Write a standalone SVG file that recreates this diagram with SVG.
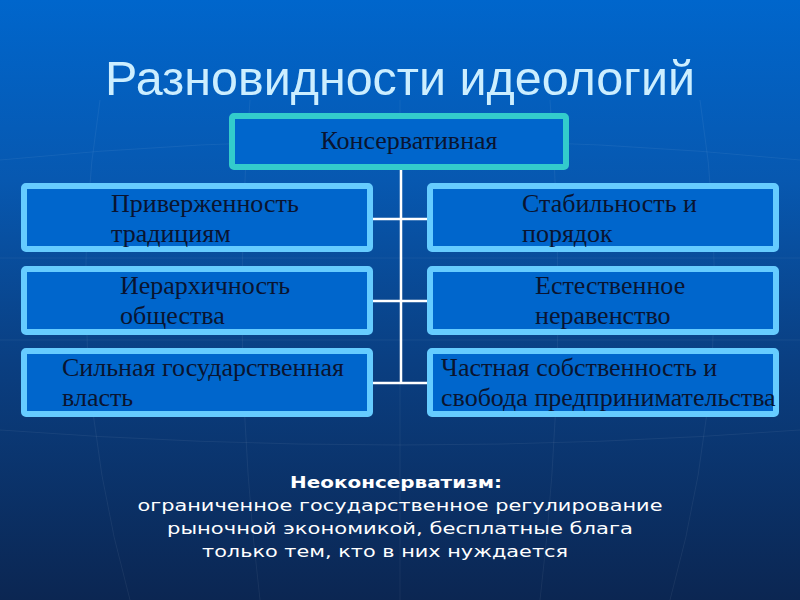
<svg xmlns="http://www.w3.org/2000/svg" width="800" height="600" viewBox="0 0 800 600">
<defs>
<linearGradient id="bg" x1="0" y1="0" x2="0" y2="1">
<stop offset="0" stop-color="#0066CC"/>
<stop offset="0.3" stop-color="#0758B0"/>
<stop offset="0.6" stop-color="#0A3F82"/>
<stop offset="1" stop-color="#0B2652"/>
</linearGradient>
<style>
.box{fill:#0066CC;stroke:#66CCFF;stroke-width:6}
.top{fill:#0066CC;stroke:#33CCCC;stroke-width:6}
.t{font-family:"Liberation Serif","Times New Roman",serif;font-size:26px;fill:#0A1430}
.conn{stroke:#FFFFFF;stroke-width:2.5;fill:none}
.grid{stroke:#FFFFFF;stroke-opacity:0.06;stroke-width:1;fill:none}
.b{font-family:"DejaVu Sans",Verdana,sans-serif;font-size:16.5px;fill:#FFFFFF;text-anchor:middle}
</style>
</defs>
<rect x="0" y="0" width="800" height="600" fill="url(#bg)"/>
<g id="gridlines">
<path class="grid" d="M0 160 Q400 120 800 160"/>
<path class="grid" d="M0 258 L800 258"/>
<path class="grid" d="M0 340 L800 340"/>
<path class="grid" d="M0 430 Q400 460 800 430"/>
<path class="grid" d="M100 100 Q60 350 130 600"/>
<path class="grid" d="M250 100 Q230 350 260 600"/>
<path class="grid" d="M400 100 L400 600"/>
<path class="grid" d="M550 100 Q570 350 540 600"/>
<path class="grid" d="M700 100 Q740 350 670 600"/>
</g>
<text x="400" y="95" text-anchor="middle" font-family="Liberation Sans, Arial, sans-serif" font-size="48" fill="#CCEEFF" textLength="590" lengthAdjust="spacingAndGlyphs">Разновидности идеологий</text>
<g id="connectors">
<line class="conn" x1="401" y1="169" x2="401" y2="383"/>
<line class="conn" x1="373" y1="219" x2="427" y2="219"/>
<line class="conn" x1="373" y1="301" x2="427" y2="301"/>
<line class="conn" x1="373" y1="383" x2="427" y2="383"/>
</g>
<g id="node-top">
<rect class="top" x="232" y="116" width="334" height="51" rx="2"/>
<text class="t" x="409" y="149" text-anchor="middle">Консервативная</text>
</g>
<g id="node-l1">
<rect class="box" x="24" y="186" width="346" height="63" rx="2"/>
<text class="t" x="111" y="212">Приверженность</text>
<text class="t" x="111" y="242">традициям</text>
</g>
<g id="node-r1">
<rect class="box" x="430" y="186" width="346" height="63" rx="2"/>
<text class="t" x="522" y="212">Стабильность и</text>
<text class="t" x="522" y="242">порядок</text>
</g>
<g id="node-l2">
<rect class="box" x="24" y="269" width="346" height="63" rx="2"/>
<text class="t" x="120" y="294">Иерархичность</text>
<text class="t" x="120" y="324">общества</text>
</g>
<g id="node-r2">
<rect class="box" x="430" y="269" width="346" height="63" rx="2"/>
<text class="t" x="535" y="294">Естественное</text>
<text class="t" x="535" y="324">неравенство</text>
</g>
<g id="node-l3">
<rect class="box" x="24" y="351" width="346" height="63" rx="2"/>
<text class="t" x="62" y="376">Сильная государственная</text>
<text class="t" x="62" y="406">власть</text>
</g>
<g id="node-r3">
<rect class="box" x="430" y="351" width="346" height="63" rx="2"/>
<text class="t" x="441" y="376">Частная собственность и</text>
<text class="t" x="441" y="406">свобода предпринимательства</text>
</g>
<g id="note">
<text class="b" x="396" y="488" font-weight="bold" textLength="212" lengthAdjust="spacingAndGlyphs">Неоконсерватизм:</text>
<text class="b" x="400" y="511" textLength="525" lengthAdjust="spacingAndGlyphs">ограниченное государственное регулирование</text>
<text class="b" x="400" y="534" textLength="466" lengthAdjust="spacingAndGlyphs">рыночной экономикой, бесплатные блага</text>
<text class="b" x="385" y="557" textLength="366" lengthAdjust="spacingAndGlyphs">только тем, кто в них нуждается</text>
</g>
</svg>
